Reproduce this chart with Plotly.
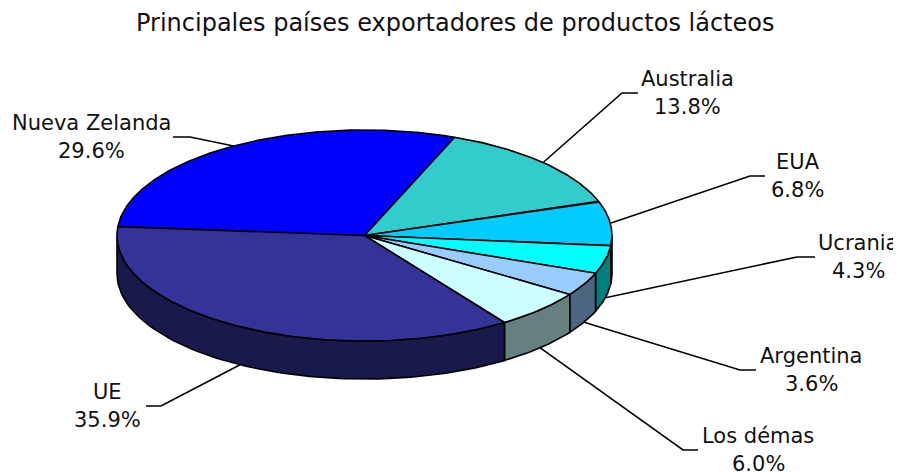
import numpy as np
import plotly.graph_objects as go

# ---- data ----
countries = ["Nueva Zelanda", "Australia", "EUA", "Ucrania", "Argentina", "Los démas", "UE"]
shares = [29.6, 13.8, 6.8, 4.3, 3.6, 6.0, 35.9]
top_colors = ["#0000FF", "#33CCCC", "#00CCFF", "#00FFFF", "#99CCFF", "#CCFFFF", "#333399"]
chart_title = "Principales países exportadores de productos lácteos"

# ---- layout of the 3D pie (pixel space of the page) ----
CX, CY = 364.5, 235.5
RX, RY = 247.5, 105.5
DEPTH = 38
START = 175.2  # degrees, first slice edge
FONT = "DejaVu Sans"
PAGE_OFFSET = 8  # default body margin of the html page
LINE_GAP = 14    # half distance between the two label lines

# label placement: (elbow x, elbow y, end x, label centre x)
label_layout = [
    (190, 137, 173, 91),
    (622, 93, 638, 687.5),
    (750, 176, 765, 797.5),
    (797, 257, 815, 858),
    (740, 370, 756, 811),
    (683, 450, 698, 758),
    (161, 406, 146, 107.5),
]


def pt(theta, drop=0.0):
    t = np.radians(theta)
    return CX + RX * np.cos(t), CY - RY * np.sin(t) + drop


def darker(hexc, f=0.5):
    r, g, b = (int(hexc[i:i + 2], 16) for i in (1, 3, 5))
    return "#%02x%02x%02x" % (int(r * f), int(g * f), int(b * f))


fig = go.Figure()

# slice angles
bounds = []
cum = 0.0
for s in shares:
    a0 = START - 3.6 * cum
    a1 = a0 - 3.6 * s
    bounds.append((a0, a1))
    cum += s

# side walls (front half only)
for (a0, a1), col in zip(bounds, top_colors):
    for k in (-1, 0, 1):
        lo = max(a1, -180 + 360 * k)
        hi = min(a0, 0 + 360 * k)
        if hi > lo:
            th = np.linspace(hi, lo, 80)
            xt, yt = pt(th)
            xb, yb = pt(th[::-1], DEPTH)
            xs = np.concatenate([xt, xb, xt[:1]])
            ys = np.concatenate([yt, yb, yt[:1]])
            fig.add_trace(go.Scatter(x=xs, y=ys, mode="lines", fill="toself",
                                     fillcolor=darker(col), line=dict(color="black", width=1.6),
                                     hoverinfo="skip", showlegend=False))

# top faces
for (a0, a1), col, name in zip(bounds, top_colors, countries):
    th = np.linspace(a0, a1, 200)
    xa, ya = pt(th)
    xs = np.concatenate([[CX], xa, [CX]])
    ys = np.concatenate([[CY], ya, [CY]])
    fig.add_trace(go.Scatter(x=xs, y=ys, mode="lines", fill="toself",
                             fillcolor=col, line=dict(color="black", width=1.6),
                             hoverinfo="skip", showlegend=False, name=name))

# leader lines and labels
annotations = []
for (a0, a1), name, s, (ex, ey, hx, lx) in zip(bounds, countries, shares, label_layout):
    mid = (a0 + a1) / 2
    drop = DEPTH if np.sin(np.radians(mid)) < 0 else 0
    px, py = pt(mid, drop)
    fig.add_trace(go.Scatter(x=[px, ex, hx], y=[py, ey, ey], mode="lines",
                             line=dict(color="black", width=1.6),
                             hoverinfo="skip", showlegend=False))
    for txt, dy in ((name, -LINE_GAP), (f"{s:.1f}%", LINE_GAP)):
        annotations.append(dict(x=lx, y=ey + dy, xref="x", yref="y", showarrow=False,
                                text=txt, align="center",
                                xanchor="center", yanchor="middle",
                                font=dict(family=FONT, size=21, color="#111111")))

annotations.append(dict(x=455, y=23, xref="x", yref="y", showarrow=False,
                        text=chart_title, xanchor="center", yanchor="middle",
                        font=dict(family=FONT, size=24, color="#111111")))

W, H = 901, 472
fig.update_layout(
    width=W - PAGE_OFFSET, height=H - PAGE_OFFSET,
    margin=dict(l=0, r=0, t=0, b=0),
    paper_bgcolor="white", plot_bgcolor="white",
    xaxis=dict(range=[PAGE_OFFSET, W], visible=False, fixedrange=True),
    yaxis=dict(range=[H, PAGE_OFFSET], visible=False, fixedrange=True),
    annotations=annotations,
    showlegend=False,
)

fig.write_html("out.html")
